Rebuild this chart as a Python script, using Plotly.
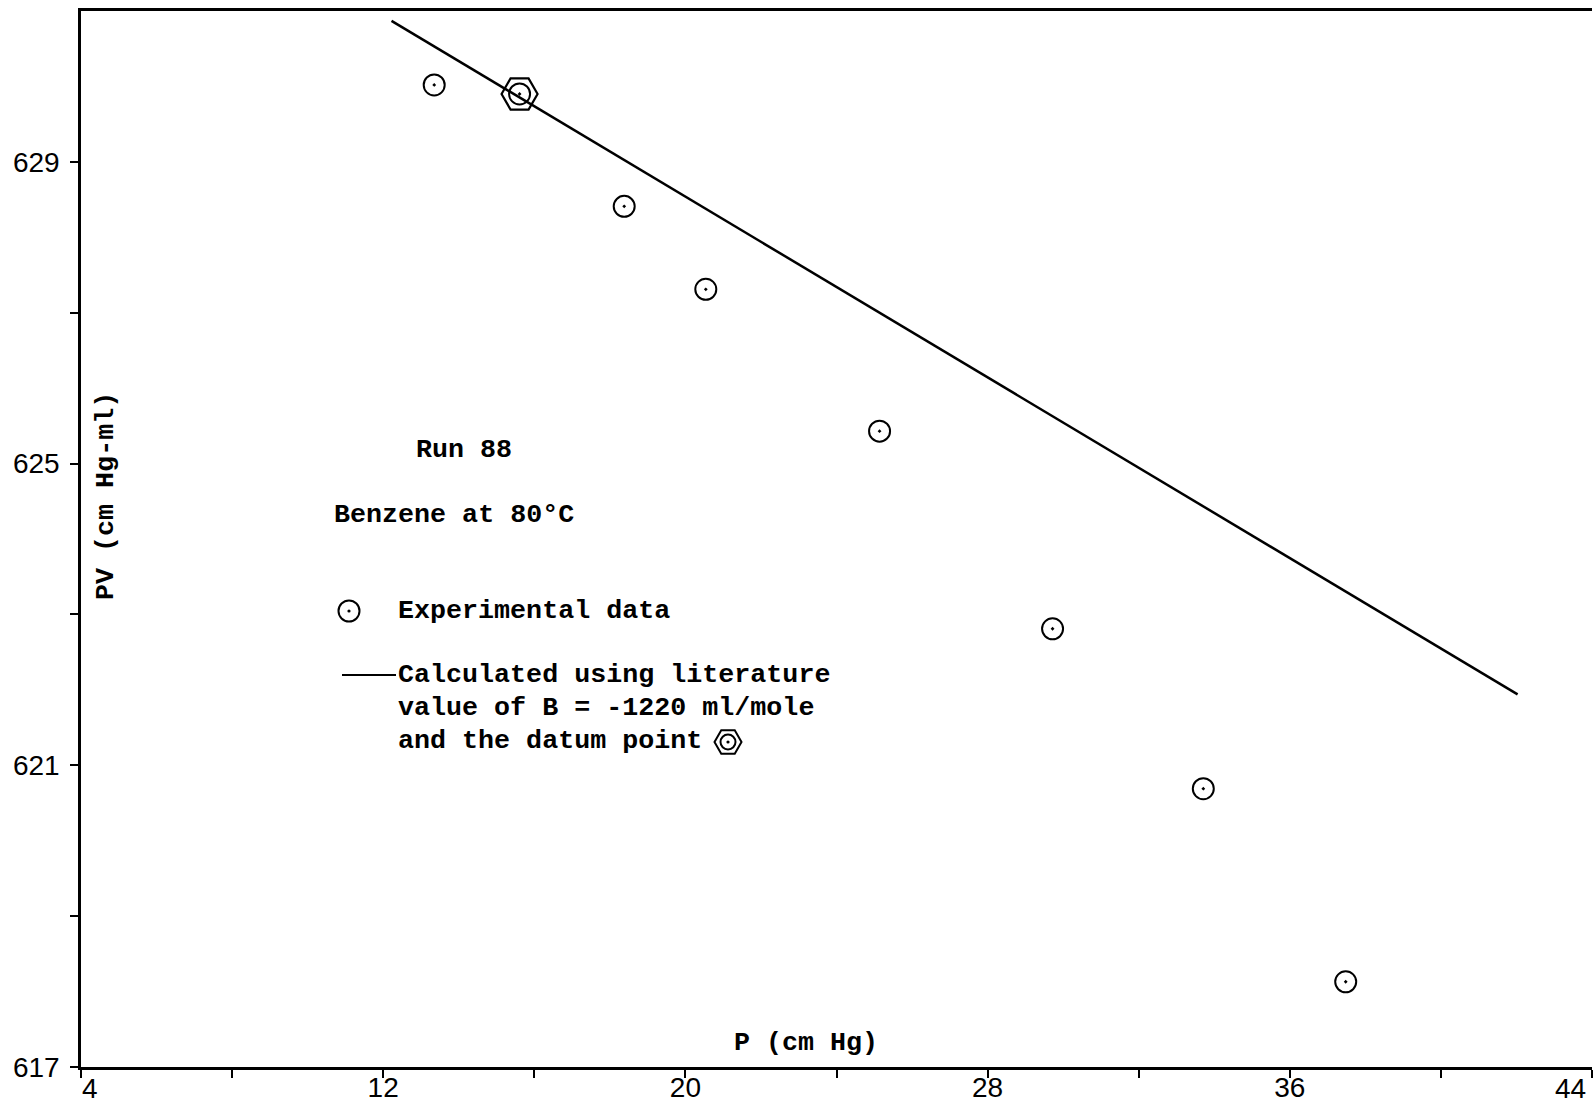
import plotly.graph_objects as go

# Run 88: benzene at 80 °C, PV against P
pressure_cmhg = [13.35, 15.61, 18.38, 20.54, 25.14, 29.72, 33.71, 37.48]
pv_cmhg_ml = [630.02, 629.90, 628.41, 627.31, 625.43, 622.81, 620.69, 618.13]

# the experimental point used as the datum for the calculated line
DATUM_INDEX = 1

# line calculated with the literature B = -1220 ml/mole through the datum point
calc_pressure = [12.22, 42.03]
calc_pv = [630.87, 621.94]

x_tickvals = [4, 8, 12, 16, 20, 24, 28, 32, 36, 40, 44]
x_ticktext = ["", "", "12", "", "20", "", "28", "", "36", "", ""]
# end labels are nudged inwards so they stay on the page
x_end_labels = ["4", "44"]
y_tickvals = [617, 619, 621, 623, 625, 627, 629]
y_ticktext = ["617", "", "621", "", "625", "", "629"]

TYPE_FONT = dict(family="Liberation Mono", size=26.7, color="black", weight="bold")
TICK_FONT = dict(family="Liberation Sans", size=28, color="black")

W, H = 1594, 1105
ML, MR, MT, MB = 81, 2, 11, 38
PW, PH = W - ML - MR, H - MT - MB


def px(xp):
    return (xp - ML) / PW


def py(yp):
    return (H - MB - yp) / PH


fig = go.Figure()

fig.add_trace(go.Scatter(
    x=calc_pressure, y=calc_pv, mode="lines",
    line=dict(color="black", width=2.5), showlegend=False, hoverinfo="skip",
))
fig.add_trace(go.Scatter(
    x=pressure_cmhg, y=pv_cmhg_ml, mode="markers",
    marker=dict(symbol="circle-open-dot", size=21, color="black",
                line=dict(color="black", width=2)),
    showlegend=False,
))
fig.add_trace(go.Scatter(
    x=[pressure_cmhg[DATUM_INDEX]], y=[pv_cmhg_ml[DATUM_INDEX]], mode="markers",
    marker=dict(symbol="hexagon2-open", size=36, color="black",
                line=dict(color="black", width=2.2)),
    showlegend=False,
))

annotations = []


def text(s, xp, yp, **kw):
    a = dict(text=s, x=px(xp), y=py(yp), xref="paper", yref="paper",
             xanchor="left", yanchor="middle", showarrow=False, font=TYPE_FONT)
    a.update(kw)
    annotations.append(a)


text("Run 88", 414, 450)
text("Benzene at 80°C", 332, 515)
text("Experimental data", 396, 611)
text("Calculated using literature", 396, 675)
text("value of B = -1220 ml/mole", 396, 708)
text("and the datum point", 396, 741)
text("P (cm Hg)", 806, 1043, xanchor="center")
text("PV (cm Hg-ml)", 106, 496, xanchor="center", textangle=-90)

# end tick labels of the pressure axis
text(x_end_labels[0], 90, 1088, xanchor="center", font=TICK_FONT)
text(x_end_labels[1], 1570, 1088, xanchor="center", font=TICK_FONT)

shapes = []


def circle_dot(xp, yp, d):
    r = d / 2
    shapes.append(dict(type="circle", xref="paper", yref="paper",
                       xsizemode="pixel", ysizemode="pixel",
                       xanchor=px(xp), yanchor=py(yp),
                       x0=-r, x1=r, y0=-r, y1=r,
                       line=dict(color="black", width=2)))
    shapes.append(dict(type="circle", xref="paper", yref="paper",
                       xsizemode="pixel", ysizemode="pixel",
                       xanchor=px(xp), yanchor=py(yp),
                       x0=-1.6, x1=1.6, y0=-1.6, y1=1.6,
                       fillcolor="black", line=dict(color="black", width=0)))


# legend key: experimental point
circle_dot(349, 611, 21)
# legend key: calculated line
shapes.append(dict(type="line", xref="paper", yref="paper",
                   x0=px(342), x1=px(396), y0=py(675), y1=py(675),
                   line=dict(color="black", width=2)))
# inline datum symbol
circle_dot(728, 742, 15)
rh, rs, rv = 13.5, 6.75, 11.7
shapes.append(dict(type="path", xref="paper", yref="paper",
                   xsizemode="pixel", ysizemode="pixel",
                   xanchor=px(728), yanchor=py(742),
                   path=f"M{-rs},{rv} L{rs},{rv} L{rh},0 L{rs},{-rv} L{-rs},{-rv} L{-rh},0 Z",
                   line=dict(color="black", width=2)))

fig.update_layout(
    width=W, height=H,
    margin=dict(l=ML, r=MR, t=MT, b=MB, pad=0),
    paper_bgcolor="white", plot_bgcolor="white",
    annotations=annotations, shapes=shapes,
    showlegend=False,
)
fig.update_xaxes(
    range=[4, 44], tickvals=x_tickvals, ticktext=x_ticktext,
    ticks="outside", ticklen=8, tickwidth=2, tickcolor="black",
    showline=True, linecolor="black", linewidth=2.5, mirror=True,
    showgrid=False, zeroline=False, tickfont=TICK_FONT, ticklabelstandoff=-14,
    automargin=False,
)
fig.update_yaxes(
    range=[617, 631], tickvals=y_tickvals, ticktext=y_ticktext,
    ticks="outside", ticklen=8, tickwidth=2, tickcolor="black",
    showline=True, linecolor="black", linewidth=2.5,
    showgrid=False, zeroline=False, tickfont=TICK_FONT, ticklabelstandoff=5,
    automargin=False,
)

fig.write_html("out.html")
